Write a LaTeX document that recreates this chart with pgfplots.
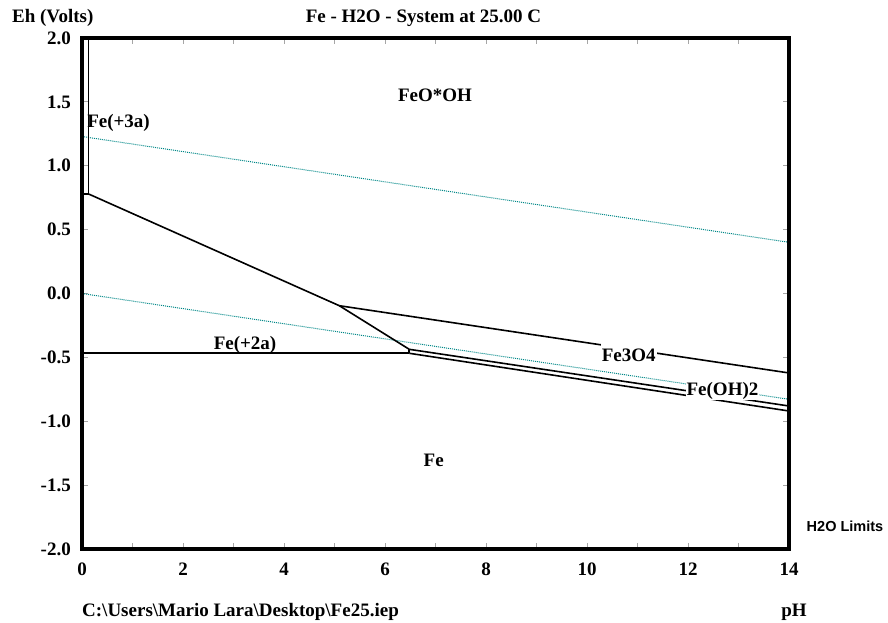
\documentclass[border=0pt]{standalone}
\usepackage{fontspec}
\setmainfont{Liberation Serif}
\newfontfamily\arialfont{Liberation Sans}
\usepackage{pgfplots}
\pgfplotsset{compat=1.18}
\definecolor{h2oline}{RGB}{0,135,135}

\begin{document}
\begin{tikzpicture}[font=\fontsize{19}{22}\selectfont\bfseries]
\useasboundingbox (-82pt,-73pt) rectangle (806pt,549pt);
\begin{axis}[
    name=main,
    at={(0pt,0pt)}, anchor=south west,
    scale only axis, width=707pt, height=511pt,
    xmin=0, xmax=14, ymin=-2, ymax=2,
    xtick={0,1,...,14},
    xticklabels={0,,2,,4,,6,,8,,10,,12,,14},
    ytick={-2,-1.5,...,2},
    yticklabels={-2.0,-1.5,-1.0,-0.5,0.0,0.5,1.0,1.5,2.0},
    tick align=inside,
    major tick length=6pt,
    tick style={gray!70, line width=0.8pt},
    xticklabel style={anchor=base, inner sep=0pt, yshift=-26pt},
    yticklabel style={anchor=east, inner sep=0pt, xshift=-11pt},
]
% H2O limits
\addplot[h2oline, densely dotted, line width=1pt] coordinates {(0,1.229) (14,0.4007)};
\addplot[h2oline, densely dotted, line width=1pt] coordinates {(0,0) (14,-0.8282)};
% phase boundaries
\addplot[black, line width=1.6pt] coordinates {(0.125,2.0) (0.125,0.78) (0,0.78)};
\addplot[black, line width=1.6pt] coordinates {(0.125,0.78) (5.095,-0.0955)};
\addplot[black, line width=1.6pt] coordinates {(5.095,-0.0955) (6.481,-0.437)};
\addplot[black, line width=1.6pt] coordinates {(5.095,-0.0955) (14,-0.622)};
\addplot[black, line width=1.6pt] coordinates {(0,-0.468) (6.481,-0.468)};
\addplot[black, line width=1.6pt] coordinates {(6.481,-0.437) (6.481,-0.468)};
\addplot[black, line width=1.6pt] coordinates {(6.481,-0.437) (14,-0.8806)};
\addplot[black, line width=1.6pt] coordinates {(6.481,-0.468) (14,-0.9198)};
% region labels
\node[anchor=base] at (axis cs:6.99,1.504) {FeO*OH};
\node[anchor=base west, inner sep=0pt] at (axis cs:0.1,1.298) {Fe(+3a)};
\node[anchor=base] at (axis cs:3.228,-0.438) {Fe(+2a)};
\node[anchor=base, fill=white, inner xsep=1pt, inner ysep=5pt] at (axis cs:10.825,-0.534) {Fe3O4};
\node[anchor=base, fill=white, inner sep=1pt] at (axis cs:12.683,-0.7945) {Fe(OH)2};
\node[anchor=base] at (axis cs:6.964,-1.356) {Fe};
\end{axis}
\draw[line width=3.2pt] (main.south west) rectangle (main.north east);
\node[anchor=base] at (341.5pt,526.3pt) {Fe - H2O - System at 25.00 C};
\node[anchor=base west, inner sep=0pt] at (-70pt,526.3pt) {Eh (Volts)};
\node[anchor=base, font=\arialfont\fontsize{14.5}{17}\selectfont\bfseries] at (763pt,17.3pt) {H2O Limits};
\node[anchor=base west, inner sep=0pt] at (0pt,-67pt) {C:\textbackslash Users\textbackslash Mario Lara\textbackslash Desktop\textbackslash Fe25.iep};
\node[anchor=base] at (712pt,-67pt) {pH};
\end{tikzpicture}
\end{document}
